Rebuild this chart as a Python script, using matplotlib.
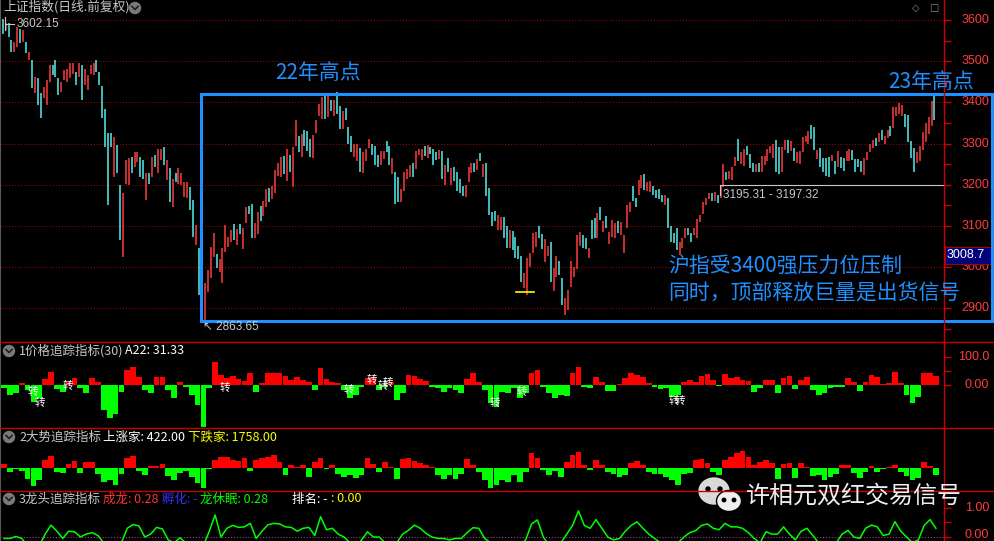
import matplotlib
matplotlib.use("Agg")
import matplotlib.pyplot as plt
import matplotlib.transforms as mtransforms
from matplotlib.patches import Rectangle, Ellipse
from matplotlib.lines import Line2D

plt.rcParams['font.family'] = ['Noto Sans CJK SC', 'DejaVu Sans']

# daily candles (high / low)
highs = [
    3602, 3593, 3592, 3551, 3547, 3584, 3579, 3575, 3547, 3523,
    3503, 3462, 3458, 3422, 3438, 3454, 3491, 3491, 3503, 3458,
    3450, 3478, 3482, 3495, 3495, 3474, 3495, 3491, 3482, 3466,
    3491, 3495, 3503, 3474, 3440, 3385, 3325, 3325, 3317, 3296,
    3199, 3179, 3260, 3264, 3268, 3280, 3280, 3268, 3260, 3228,
    3228, 3268, 3272, 3288, 3288, 3292, 3260, 3240, 3215, 3228,
    3240, 3228, 3207, 3207, 3195, 3163, 3102, 3046, 2990, 2961,
    2993, 3050, 3082, 3033, 3021, 3046, 3102, 3074, 3090, 3106,
    3092, 3104, 3096, 3145, 3149, 3153, 3108, 3133, 3149, 3161,
    3189, 3193, 3197, 3236, 3254, 3267, 3271, 3287, 3272, 3291,
    3357, 3319, 3323, 3333, 3330, 3311, 3322, 3357, 3396, 3414,
    3417, 3417, 3405, 3406, 3425, 3392, 3378, 3387, 3341, 3319,
    3299, 3299, 3289, 3279, 3287, 3310, 3299, 3295, 3273, 3283,
    3283, 3307, 3293, 3265, 3232, 3218, 3189, 3230, 3238, 3249,
    3254, 3283, 3288, 3287, 3295, 3296, 3291, 3287, 3279, 3284,
    3283, 3249, 3265, 3240, 3244, 3230, 3214, 3197, 3200, 3244,
    3254, 3253, 3263, 3277, 3250, 3253, 3192, 3133, 3137, 3127,
    3123, 3123, 3101, 3091, 3087, 3074, 3052, 3028, 2985, 3023,
    3034, 3082, 3085, 3099, 3080, 3068, 3052, 3062, 2999, 3026,
    3015, 2973, 2926, 2945, 3015, 3001, 3078, 3086, 3077, 3072,
    3046, 3115, 3119, 3131, 3145, 3112, 3125, 3085, 3115, 3107,
    3111, 3109, 3077, 3150, 3157, 3196, 3169, 3212, 3224, 3226,
    3206, 3210, 3196, 3188, 3189, 3176, 3174, 3169, 3099, 3084,
    3095, 3061, 3070, 3096, 3096, 3084, 3095, 3117, 3127, 3157,
    3169, 3181, 3179, 3183, 3176, 3198, 3250, 3232, 3234, 3242,
    3268, 3311, 3279, 3287, 3295, 3275, 3252, 3250, 3254, 3270,
    3270, 3287, 3295, 3299, 3308, 3291, 3292, 3308, 3308, 3307,
    3289, 3279, 3281, 3317, 3319, 3331, 3345, 3341, 3284, 3289,
    3265, 3265, 3268, 3273, 3258, 3281, 3268, 3266, 3281, 3287,
    3284, 3262, 3262, 3258, 3265, 3279, 3299, 3308, 3313, 3325,
    3333, 3319, 3333, 3343, 3388, 3388, 3398, 3394, 3373, 3370,
    3307, 3289, 3279, 3295, 3327, 3351, 3365, 3404, 3419,
]
lows = [
    3567, 3575, 3559, 3523, 3523, 3535, 3543, 3547, 3519, 3503,
    3434, 3422, 3393, 3361, 3410, 3393, 3450, 3466, 3462, 3418,
    3426, 3454, 3450, 3458, 3470, 3442, 3462, 3406, 3442, 3430,
    3470, 3466, 3474, 3442, 3361, 3292, 3151, 3292, 3220, 3228,
    3066, 3025, 3203, 3199, 3228, 3244, 3256, 3220, 3215, 3163,
    3203, 3220, 3244, 3228, 3260, 3248, 3211, 3159, 3147, 3207,
    3203, 3199, 3171, 3167, 3139, 3074, 3054, 2932, 2880, 2864,
    2940, 2973, 3025, 2997, 2989, 2961, 3037, 3050, 3062, 3066,
    3055, 3080, 3043, 3108, 3128, 3072, 3072, 3080, 3112, 3124,
    3145, 3157, 3165, 3181, 3222, 3218, 3226, 3210, 3230, 3195,
    3295, 3279, 3267, 3295, 3283, 3267, 3265, 3325, 3366, 3360,
    3360, 3364, 3380, 3368, 3372, 3336, 3336, 3357, 3299, 3279,
    3267, 3258, 3230, 3228, 3258, 3289, 3273, 3249, 3244, 3249,
    3262, 3279, 3249, 3226, 3154, 3159, 3157, 3185, 3214, 3218,
    3218, 3238, 3273, 3260, 3271, 3265, 3275, 3249, 3260, 3262,
    3214, 3200, 3232, 3200, 3210, 3185, 3181, 3173, 3171, 3206,
    3228, 3232, 3236, 3258, 3220, 3172, 3127, 3099, 3111, 3091,
    3091, 3070, 3046, 3046, 3042, 3023, 3020, 2965, 2950, 2933,
    3001, 3034, 3050, 3072, 3044, 3012, 3026, 2963, 2941, 2977,
    2980, 2908, 2885, 2896, 2953, 2975, 2996, 3052, 3046, 3044,
    3022, 3069, 3072, 3072, 3115, 3085, 3095, 3056, 3074, 3072,
    3082, 3078, 3034, 3095, 3135, 3161, 3147, 3174, 3193, 3188,
    3186, 3182, 3174, 3169, 3166, 3158, 3151, 3095, 3062, 3058,
    3042, 3030, 3046, 3072, 3078, 3062, 3078, 3072, 3109, 3129,
    3151, 3165, 3161, 3161, 3155, 3169, 3194, 3211, 3214, 3211,
    3246, 3257, 3250, 3246, 3273, 3241, 3230, 3232, 3230, 3230,
    3249, 3257, 3276, 3266, 3232, 3226, 3230, 3284, 3276, 3283,
    3258, 3252, 3250, 3279, 3303, 3300, 3311, 3284, 3262, 3242,
    3230, 3222, 3218, 3257, 3226, 3242, 3241, 3234, 3257, 3258,
    3260, 3230, 3242, 3230, 3224, 3260, 3279, 3289, 3295, 3303,
    3309, 3299, 3313, 3319, 3339, 3368, 3373, 3368, 3341, 3303,
    3266, 3230, 3252, 3258, 3284, 3303, 3323, 3343, 3357,
]
# r = up day (red), c = down day (cyan)
updown = ("crccrrcrcr" "crccrrrccc" "rrrrrcrcrr" "rrccccccrc" "crrrcrrccr"
          "crcrrcrcrc" "rrrrccrccr" "rrrcrrrrrc" "rcrrccrrcr" "rcrrrrcrcr"
          "rcrcccrrrr" "crcrccrccc" "rrcrrrcccr" "rccrccrrrr" "crrrcrcccr"
          "crcrccccrr" "rcrcrccccr" "rccrccccrr" "rrrccrrcrr" "ccrrrrrrcc"
          "rccrcrcrrr" "crrrrccrrc" "rrccccrccc" "crrrccrrrr" "rrcrcrrcrr"
          "rcrrcccrcr" "rrrrccrrcr" "crrrrrccrc" "cccrcrccrr" "ccccrrrrcr"
          "crrcrrrrcc" "ccrrrrrrc")

price_ticks = [3600, 3500, 3400, 3300, 3200, 3100, 3000, 2900]

# indicator panels, one value per two trading days
p1_vals = [
    -12, -36, -30, 8, -18, -60, -48, 20, 48, -15,
    -24, 12, 24, -12, -27, 24, 12, -89, -119, -105,
    -24, 54, 65, 30, -18, -30, 30, 27, -18, -48,
    12, -8, -36, -71, -151, -12, 83, 36, 24, 32,
    20, 15, 44, -24, 6, 42, 44, 42, 32, 18,
    30, 18, 12, -18, 60, 20, 12, 6, -18, -48,
    -36, -6, 24, 30, -18, -6, 12, -54, -30, 36,
    32, 20, 15, -6, -12, -24, -12, -18, -30, 20,
    42, 12, -18, -65, -77, -24, -30, -12, -48, -30,
    42, 54, -6, -30, -48, -36, -40, 42, 65, -6,
    -12, 30, 10, -20, -20, 4, 24, 42, 36, 30,
    8, -8, -15, -12, -42, -36, 12, 18, 12, 32,
    39, 18, -3, 39, 24, 30, 18, 15, -24, -12,
    18, 18, -30, 24, 32, -15, 18, 30, -18, -36,
    -30, -12, -8, -6, 24, 12, -20, 12, 36, 27,
    3, 6, 45, 6, -36, -65, -42, 44, 42, 32,
]
p2_vals = [
    4, -4, -1, -3, -11, -18, -12, 8, 12, -4,
    -5, 4, 7, -5, 6, 6, -6, -14, -12, -17,
    -6, 10, 12, -3, -7, 2, 2, 4, -8, -12,
    -5, -3, -9, -15, -20, -1, 8, 11, 11, 8,
    7, 10, -3, 8, 10, 11, 13, 6, -7, 3,
    1, 3, -9, 6, 10, -1, 3, -6, -9, -7,
    -10, -7, 10, 4, -4, 6, 1, -11, 9, 10,
    7, 5, 3, 1, -7, -11, -7, -11, -6, 9,
    3, -4, -12, -20, -17, -12, -14, -7, -14, -4,
    15, 10, -2, -7, -3, -9, 6, 13, 16, 3,
    -2, 8, 3, -4, -6, -9, -7, 5, 7, 3,
    -4, -6, -6, -9, -12, -17, -6, -5, 8, 9,
    5, -4, -7, 8, 11, 15, 17, 11, 3, 6,
    8, 5, -11, 4, 5, -10, 5, 1, -8, -7,
    -12, -9, -6, 3, 3, -5, -10, -4, 2, -4,
    -1, 1, 3, -4, -8, -12, -10, 6, 2, -7,
]
p3_vals = [
    -0.05, -0.05, 0.02, -0.05, -0.3, -0.3, -0.3, 0.1, 0.41, 0.2,
    -0.05, 0.2, 0.18, 0.0, 0.1, 0.15, 0.05, -0.2, -0.3, -0.3,
    -0.2, 0.3, 0.43, 0.38, 0.0, 0.1, 0.33, 0.28, -0.1, -0.2,
    -0.03, -0.2, -0.3, -0.3, -0.3, 0.2, 0.76, 0.0, 0.3, 0.4,
    0.33, 0.35, 0.47, -0.05, 0.2, 0.42, 0.47, 0.45, 0.35, 0.33,
    0.2, 0.3, 0.33, 0.05, 0.7, 0.25, 0.3, 0.1, 0.0, -0.2,
    -0.3, -0.1, 0.18, 0.0, 0.0, -0.2, -0.3, -0.2, 0.1, 0.23,
    0.41, 0.3, 0.12, 0.0, -0.05, -0.05, -0.1, -0.05, -0.05, 0.15,
    0.32, 0.3, -0.05, -0.2, -0.2, -0.3, -0.3, -0.3, -0.3, -0.1,
    0.45, 0.59, 0.0, -0.3, -0.3, -0.2, 0.1, 0.4, 0.9, 0.4,
    0.3, 0.6, 0.3, 0.0, -0.1, -0.05, 0.2, 0.4, 0.52, 0.3,
    0.1, -0.05, -0.2, -0.3, -0.3, -0.2, 0.0, 0.15, 0.22, 0.4,
    0.45, 0.3, 0.25, 0.47, 0.35, 0.35, 0.3, 0.15, -0.05, -0.2,
    0.18, 0.1, 0.1, 0.35, 0.1, -0.1, 0.2, 0.3, 0.05, -0.2,
    -0.3, -0.3, -0.2, 0.1, 0.23, 0.0, -0.05, 0.3, 0.41, 0.35,
    0.05, 0.1, 0.53, 0.2, 0.0, -0.2, -0.1, 0.4, 0.6, 0.3,
]
# "转" signals in panel 1: (day index, panel value)
zhuan_marks = [(10.3, -25), (12.7, -64), (22.3, -4), (75.9, -11), (118.2, -18),
               (126, 18), (129.7, -4), (131.5, 7), (168, -64), (177.2, -25),
               (229.1, -57), (231.2, -57)]

W, H = 995, 541
STEP = 2.93      # px per trading day
X0 = 2.7         # px of the first candle
AX_R = 944       # px of the price axis line
XLIM = (-X0 / STEP, (AX_R - X0) / STEP)

RED_AX = '#c80000'
UP = '#ff3c3c'
DOWN = '#54f0f0'
BLUE = '#1e90ff'
GREY = '#c8c8c8'
NUMFONT = ['Liberation Sans', 'DejaVu Sans']

fig = plt.figure(figsize=(W / 100, H / 100), dpi=100, facecolor='black')


def fx(x):
    return x / W


def fy(y):
    return 1 - y / H


def ftext(x, y, s, **kw):
    kw.setdefault('va', 'center')
    fig.text(fx(x), fy(y), s, **kw)


def fline(xs, ys, **kw):
    fig.add_artist(Line2D([fx(v) for v in xs], [fy(v) for v in ys],
                          transform=fig.transFigure, **kw))


def panel(top, bottom, ylim, ticks):
    ax = fig.add_axes([0, fy(bottom), fx(AX_R), (bottom - top) / H], facecolor='black')
    ax.set_xlim(XLIM)
    ax.set_ylim(ylim)
    for s in ('top', 'bottom', 'right'):
        ax.spines[s].set_visible(False)
    ax.spines['left'].set_color('#5a5a5a')
    ax.set_xticks([])
    ax.yaxis.tick_right()
    ax.set_yticks(ticks)
    ax.tick_params(axis='y', length=5, width=1, color=RED_AX, labelright=False, direction='out')
    return ax


def right_labels(ax, vals, labels):
    tr = mtransforms.blended_transform_factory(fig.transFigure, ax.transData)
    for v, s in zip(vals, labels):
        ax.text(fx(989), v, s, transform=tr, ha='right', va='center',
                color='#ff3c3c', fontsize=9, family=NUMFONT)


def icon(x, y):
    fig.add_artist(Ellipse((fx(x), fy(y)), 11 / W, 11 / H, transform=fig.transFigure,
                           color='#7a7a7a'))
    fline([x - 3, x, x + 3], [y - 1.5, y + 1.5, y - 1.5], color='#202020', lw=1.2)


# ---- main price panel ----
ax = panel(0, 342, (2818.4, 3648.5), list(range(2850, 3650, 50)))
for p in price_ticks:
    ax.axhline(p, color='#a00000', lw=0.75, ls=(0, (1, 1.8)))
idx = list(range(len(highs)))
cols = [UP if c == 'r' else DOWN for c in updown]
ax.vlines(idx, lows, highs, colors=cols, lw=1.1)
right_labels(ax, price_ticks, [str(p) for p in price_ticks])

# 3195.31 - 3197.32 marker line
ax.plot([244.9, XLIM[1]], [3199, 3199], color=GREY, lw=0.8)
ax.plot([244.9, 244.9], [3199, 3176], color=GREY, lw=0.8)
ftext(723, 195, '3195.31 - 3197.32', color=GREY, fontsize=8.5, family=NUMFONT)
ax.plot([175.2, 181.3], [2939, 2939], color='#ffff00', lw=1.2)

ftext(3, 7, '上证指数(日线.前复权)', color=GREY, fontsize=9.2)
icon(135, 8)
ftext(916, 8, '◇', color='#8a8a8a', fontsize=7, ha='center', family=['DejaVu Sans'])
ftext(934, 8, '□', color='#8a8a8a', fontsize=7, ha='center', family=['DejaVu Sans'])
fline([5, 5], [17, 30], color=GREY, lw=0.8)
fline([5, 14], [24, 24], color=GREY, lw=0.8)
ftext(17, 24, '3602.15', color=GREY, fontsize=8.5, family=NUMFONT)
ftext(203, 327, '↖ 2863.65', color=GREY, fontsize=8.5, family=NUMFONT)

# current value box on axis
fig.add_artist(Rectangle((fx(945), fy(264)), 49 / W, 17 / H, transform=fig.transFigure,
                         facecolor='#00007a', edgecolor='#a00000', lw=0.8))
ftext(947, 255.5, '3008.7', color='white', fontsize=9, family=NUMFONT)

# blue frame and notes
fig.add_artist(Rectangle((fx(201), fy(321)), (992 - 201) / W, (321 - 93.5) / H,
                         transform=fig.transFigure, fill=False, edgecolor=BLUE, lw=2.2))
ftext(275, 73, '22年高点', color=BLUE, fontsize=15)
ftext(888, 82, '23年高点', color=BLUE, fontsize=15)
ftext(668, 266, '沪指受3400强压力位压制', color=BLUE, fontsize=15)
ftext(668, 294, '同时，顶部释放巨量是出货信号', color=BLUE, fontsize=15)

# ---- panel 1 ----
xs = [2 * k + 0.5 for k in range(len(p1_vals))]
ax1 = panel(342, 428, (-153.6, 153.6), [0, 50, 100])
ax1.bar(xs, p1_vals, width=1.95, linewidth=0,
        color=['#ff0000' if v >= 0 else '#00ff00' for v in p1_vals])
right_labels(ax1, [100, 0], ['100.0', '0.00'])
for i, v in zhuan_marks:
    ax1.text(i, v, '转', color='white', fontsize=7.5, ha='center', va='center')
icon(9, 351)
ftext(19, 351, '1价格追踪指标(30)', color=GREY, fontsize=9)
ftext(125, 351, 'A22: 31.33', color='white', fontsize=9)

# ---- panel 2 ----
ax2 = panel(428, 491, (-23.3, 39.7), [])
ax2.bar(xs, p2_vals, width=1.95, linewidth=0,
        color=['#ff0000' if v >= 0 else '#00ff00' for v in p2_vals])
icon(9, 437)
ftext(19, 437, '2大势追踪指标', color=GREY, fontsize=9)
ftext(103, 437, '上涨家: 422.00', color='white', fontsize=9)
ftext(188, 437, '下跌家: 1758.00', color='#ffff00', fontsize=9)

# ---- panel 3 ----
ax3 = panel(491, 541, (-0.138, 1.586), [0, 0.5, 1])
ax3.axhline(0, color='#b040b0', lw=0.75, ls=(0, (1, 1.8)))
ax3.plot(xs, p3_vals, color='#00ff00', lw=1.1)
right_labels(ax3, [1, 0.07], ['1.00', '0.00'])
icon(9, 499)
ftext(19, 499, '3龙头追踪指标', color=GREY, fontsize=9)
ftext(103, 499, '成龙: 0.28', color='#ff3232', fontsize=9)
ftext(162, 499, '孵化: -', color='#3030ff', fontsize=9)
ftext(200, 499, '龙休眠: 0.28', color='#00ff00', fontsize=9)
ftext(292, 499, '排名: -', color='white', fontsize=9)
ftext(331, 499, ': 0.00', color='#ffff00', fontsize=9)

# separators and axis line
for y in (342, 428, 491):
    fline([0, W], [y, y], color=RED_AX, lw=1)
fline([944.5, 944.5], [0, H], color=RED_AX, lw=1)

# watermark
fig.add_artist(Ellipse((fx(714), fy(491)), 30 / W, 26 / H, transform=fig.transFigure,
                       color='#d9d9d9'))
for ex in (708, 720):
    fig.add_artist(Ellipse((fx(ex), fy(489)), 4 / W, 4 / H, transform=fig.transFigure,
                           color='black'))
fig.add_artist(Ellipse((fx(729), fy(501)), 25 / W, 21 / H, transform=fig.transFigure,
                       facecolor='#efefef', edgecolor='black', lw=1))
for ex in (724, 734):
    fig.add_artist(Ellipse((fx(ex), fy(500)), 3.5 / W, 3.5 / H, transform=fig.transFigure,
                           color='black'))
ftext(746, 496, '许相元双红交易信号', color='#eeeeee', fontsize=17.3)

fig.savefig('out.png', dpi=100, facecolor='black')
